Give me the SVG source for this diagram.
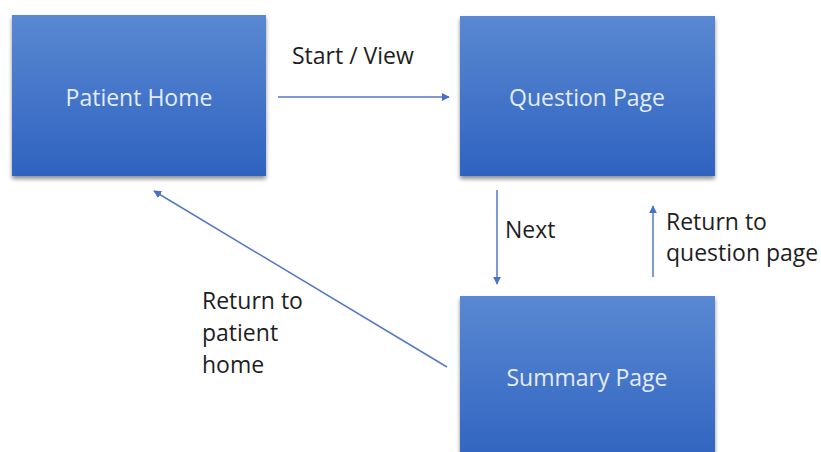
<svg xmlns="http://www.w3.org/2000/svg" width="821" height="452" viewBox="0 0 821 452">
<style>
.node{fill:url(#g);filter:url(#sh)}
.nt{font-family:"Open Sans",Lato,sans-serif;font-size:23px;fill:#e4ecfa;text-anchor:middle;dominant-baseline:central}
.lt{font-family:"Open Sans",Lato,sans-serif;font-size:23px;fill:#1e1e1e}
.c{stroke:#5479c4;stroke-width:1.5;fill:none;marker-end:url(#a)}
</style>
<defs>
<linearGradient id="g" x1="0" y1="0" x2="0" y2="1">
<stop offset="0" stop-color="#5a88d2"/>
<stop offset="1" stop-color="#2e63c0"/>
</linearGradient>
<filter id="sh" x="-10%" y="-10%" width="120%" height="130%">
<feGaussianBlur in="SourceAlpha" stdDeviation="2"/>
<feOffset dx="0" dy="3" result="b"/>
<feComponentTransfer><feFuncA type="linear" slope="0.45"/></feComponentTransfer>
<feMerge><feMergeNode/><feMergeNode in="SourceGraphic"/></feMerge>
</filter>
<marker id="a" viewBox="0 0 10 10" refX="9" refY="5" markerWidth="8" markerHeight="8" markerUnits="userSpaceOnUse" orient="auto">
<path d="M0,0 L10,5 L0,10 z" fill="#4a72c4"/>
</marker>
</defs>
<rect width="821" height="452" fill="#fff"/>
<g id="connectors">
<line class="c" x1="278" y1="97" x2="449" y2="97"/>
<line class="c" x1="497" y1="190" x2="497" y2="284"/>
<line class="c" x1="653" y1="277" x2="653" y2="206"/>
<line class="c" x1="447" y1="367" x2="154" y2="191"/>
<text class="lt" x="292" y="64">Start / View</text>
<text class="lt" x="505" y="238">Next</text>
<text class="lt" x="666" y="230">Return to</text>
<text class="lt" x="666" y="261">question page</text>
<text class="lt" x="202" y="309">Return to</text>
<text class="lt" x="202" y="341">patient</text>
<text class="lt" x="202" y="373">home</text>
</g>
<g id="patient-home">
<rect class="node" x="12" y="15" width="254" height="161"/>
<text class="nt" x="139" y="97">Patient Home</text>
</g>
<g id="question-page">
<rect class="node" x="460" y="16" width="255" height="160"/>
<text class="nt" x="587" y="97">Question Page</text>
</g>
<g id="summary-page">
<rect class="node" x="460" y="296" width="255" height="170"/>
<text class="nt" x="587" y="377">Summary Page</text>
</g>
</svg>
